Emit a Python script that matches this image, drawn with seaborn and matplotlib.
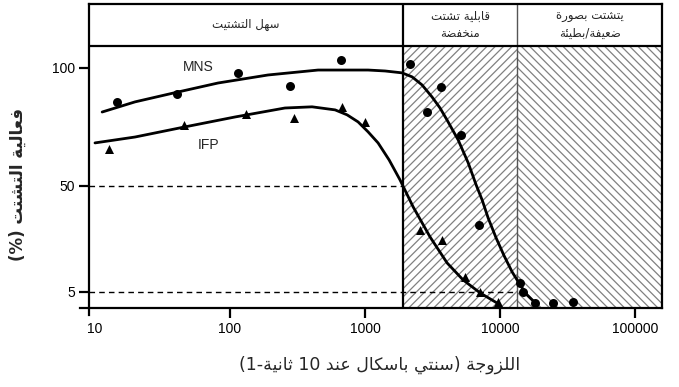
import numpy as np
import pandas as pd
import matplotlib
matplotlib.use("Agg")
import matplotlib.pyplot as plt
import seaborn as sns
from matplotlib.ticker import FixedLocator, NullLocator

# ---------------- data ----------------
mns_pts_x = [14.6, 40.5, 115, 278, 664, 2155, 2875, 3655, 5140, 6980, 14060, 14800, 18150, 24700, 34750]
mns_pts_y = [85.6, 89.0, 97.9, 92.4, 103.4, 101.7, 81.3, 91.9, 71.6, 33.4, 8.8, 5.0, 0.3, 0.3, 0.8]
mns_fit_x = [11.3, 19.8, 39.1, 81.5, 191, 449, 1052, 1406, 1880, 2230, 2640, 3130, 3590, 4046, 4887,
             5796, 6643, 7360, 8150, 9340, 10710, 12270, 14060, 15850, 17860]
mns_fit_y = [81.3, 85.6, 89.5, 93.6, 97.0, 99.1, 99.1, 98.7, 97.9, 96.2, 92.8, 87.7, 83.0, 77.9, 69.5,
             59.8, 50.4, 44.0, 36.4, 27.9, 20.3, 13.5, 8.0, 3.7, 0.8]
ifp_pts_x = [12.7, 45.6, 131, 298, 676, 1000, 2555, 3715, 5510, 7110, 9660]
ifp_pts_y = [65.6, 75.8, 80.5, 78.8, 83.5, 77.1, 31.3, 27.1, 11.4, 5.0, 0.8]
ifp_fit_x = [10.0, 19.8, 46.4, 109, 255, 405, 600, 736, 888, 1052, 1248, 1506, 1815, 2268, 3030, 4050,
             5320, 7110, 9500]
ifp_fit_y = [68.2, 70.7, 75.0, 79.2, 83.0, 83.5, 82.2, 80.1, 77.1, 72.9, 68.2, 61.0, 52.5, 41.1, 28.3,
             17.3, 10.1, 4.6, 0.3]

zone_edges = [1910, 13360]
zone_labels = ["سهل التشتيت", "قابلية تشتت\nمنخفضة", "يتشتت بصورة\nضعيفة/بطيئة"]
ref_levels = [50, 5]
x_ticks = [10, 100, 1000, 10000, 100000]
x_tick_labels = ["10", "100", "1000", "10000", "100000"]
y_ticks = [5, 50, 100]
y_tick_labels = ["5", "50", "100"]
series_names = ["MNS", "IFP"]
x_title = "اللزوجة (سنتي باسكال عند 10 ثانية-1)"
y_title = "فعالية التشتت (%)"

# ---------------- Arabic shaping (presentation forms + visual order) ----------------
DUAL = {'ب': 0xFE8F, 'ت': 0xFE95, 'ث': 0xFE99, 'ج': 0xFE9D, 'ح': 0xFEA1, 'خ': 0xFEA5,
        'س': 0xFEB1, 'ش': 0xFEB5, 'ص': 0xFEB9, 'ض': 0xFEBD, 'ط': 0xFEC1, 'ظ': 0xFEC5,
        'ع': 0xFEC9, 'غ': 0xFECD, 'ف': 0xFED1, 'ق': 0xFED5, 'ك': 0xFED9, 'ل': 0xFEDD,
        'م': 0xFEE1, 'ن': 0xFEE5, 'ه': 0xFEE9, 'ي': 0xFEF1, 'ئ': 0xFE89}
RIGHT = {'ا': 0xFE8D, 'أ': 0xFE83, 'إ': 0xFE87, 'آ': 0xFE81, 'ؤ': 0xFE85, 'ة': 0xFE93,
         'د': 0xFEA9, 'ذ': 0xFEAB, 'ر': 0xFEAD, 'ز': 0xFEAF, 'و': 0xFEED, 'ى': 0xFEEF}
LAMALEF = {'ا': 0xFEFB, 'أ': 0xFEF7, 'إ': 0xFEF9, 'آ': 0xFEF5}
MIRROR = {'(': ')', ')': '('}


def shape(s):
    out, i, n = [], 0, len(s)
    while i < n:
        c = s[i]
        prev_join = i > 0 and s[i - 1] in DUAL
        if c == 'ل' and i + 1 < n and s[i + 1] in LAMALEF:
            out.append(chr(LAMALEF[s[i + 1]] + (1 if prev_join else 0)))
            i += 2
            continue
        if c in DUAL:
            nxt = s[i + 1] if i + 1 < n else ''
            next_join = nxt in DUAL or nxt in RIGHT
            b = DUAL[c]
            f = b + 3 if (prev_join and next_join) else b + 1 if prev_join else b + 2 if next_join else b
            out.append(chr(f))
        elif c in RIGHT:
            out.append(chr(RIGHT[c] + (1 if prev_join else 0)))
        else:
            out.append(c)
        i += 1
    return ''.join(out)


def ar(text):
    lines = []
    for line in text.split("\n"):
        s = shape(line)
        runs = []
        for ch in s:
            ltr = ch.isdigit() or ('a' <= ch.lower() <= 'z')
            if runs and runs[-1][0] == ltr:
                runs[-1][1].append(ch)
            else:
                runs.append([ltr, [ch]])
        vis = []
        for ltr, chs in reversed(runs):
            if ltr:
                vis.append(''.join(chs))
            else:
                vis.append(''.join(MIRROR.get(c, c) for c in reversed(chs)))
        lines.append(''.join(vis))
    return "\n".join(lines)


# ---------------- plot ----------------
sns.set_style("ticks")
plt.rcParams['font.family'] = ['Liberation Sans', 'DejaVu Sans']
plt.rcParams['hatch.linewidth'] = 0.9

W, H = 679, 387
fig = plt.figure(figsize=(W / 100, H / 100), dpi=100)
ax = fig.add_axes([89 / W, 1 - 308 / H, (662 - 89) / W, (308 - 4) / H])
ax.set_xscale('log')
xmin, xmax = 9.03, 158000
ymin, ymax = -1.8, 127.1
band = 109.3
ax.set_xlim(xmin, xmax)
ax.set_ylim(ymin, ymax)

# hatched zones
ax.fill_between([zone_edges[0], zone_edges[1]], ymin, band, facecolor='white',
                edgecolor='#808080', hatch='////', linewidth=0, zorder=1)
ax.fill_between([zone_edges[1], xmax], ymin, band, facecolor='white',
                edgecolor='#808080', hatch='\\\\\\\\', linewidth=0, zorder=1)
ax.axvline(zone_edges[0], color='black', lw=1.6, zorder=3)
ax.axvline(zone_edges[1], color='#555555', lw=1.0, zorder=3)
ax.axhline(band, color='black', lw=1.6, zorder=3)

# reference dashed levels
ax.plot([xmin, zone_edges[0]], [ref_levels[0]] * 2, color='black', lw=1.0, ls=(0, (4, 3)), zorder=2)
ax.plot([xmin, zone_edges[1]], [ref_levels[1]] * 2, color='black', lw=1.0, ls=(0, (4, 3)), zorder=2)

# fitted curves
fit_df = pd.DataFrame({
    'x': mns_fit_x + ifp_fit_x,
    'y': mns_fit_y + ifp_fit_y,
    'series': [series_names[0]] * len(mns_fit_x) + [series_names[1]] * len(ifp_fit_x),
})
sns.lineplot(data=fit_df, x='x', y='y', units='series', estimator=None, sort=False,
             color='black', lw=2.0, ax=ax, zorder=4, legend=False,
             solid_joinstyle='round', solid_capstyle='round')

mns_df = pd.DataFrame({'x': mns_pts_x, 'y': mns_pts_y})
ifp_df = pd.DataFrame({'x': ifp_pts_x, 'y': ifp_pts_y})
sns.scatterplot(data=mns_df, x='x', y='y', marker='o', s=42, color='black',
                edgecolor='black', linewidth=0, ax=ax, zorder=5, legend=False)
sns.scatterplot(data=ifp_df, x='x', y='y', marker='^', s=42, color='black',
                edgecolor='black', linewidth=0, ax=ax, zorder=5, legend=False)

ax.text(58, 100.4, series_names[0], ha='center', va='center', fontsize=10, zorder=6)
ax.text(68.8, 67.3, series_names[1], ha='center', va='center', fontsize=10, zorder=6)

# band labels
band_mid = (band + ymax) / 2
label_x = [131, 5060, 46000]
for lx, lab in zip(label_x, zone_labels):
    ax.text(lx, band_mid, ar(lab), ha='center', va='center', fontsize=8.5,
            family=['DejaVu Sans'], linespacing=1.35, zorder=6)

# axes styling
for sp in ax.spines.values():
    sp.set_linewidth(1.6)
    sp.set_color('black')
    sp.set_zorder(6)
ax.spines['left'].set_bounds(-4.7, ymax)
ax.spines['bottom'].set_bounds(7.74, xmax)
ax.xaxis.set_major_locator(FixedLocator(x_ticks))
ax.xaxis.set_minor_locator(NullLocator())
ax.set_xticklabels(x_tick_labels)
ax.set_yticks(y_ticks)
ax.set_yticklabels(y_tick_labels)
ax.tick_params(axis='both', direction='out', length=7, width=1.6, labelsize=10,
               colors='black', pad=3)
ax.xaxis.get_major_ticks()[0].tick1line.set_visible(False)
ax.set_xlabel('')
ax.set_ylabel('')

fig.text(380 / W, 1 - 365 / H, ar(x_title), ha='center', va='center', fontsize=12.5,
         family=['DejaVu Sans'])
fig.text(18 / W, 1 - 184 / H, ar(y_title), ha='center', va='center', fontsize=12,
         rotation=90, family=['DejaVu Sans'], fontweight='bold')

fig.savefig('out.png', dpi=100)
